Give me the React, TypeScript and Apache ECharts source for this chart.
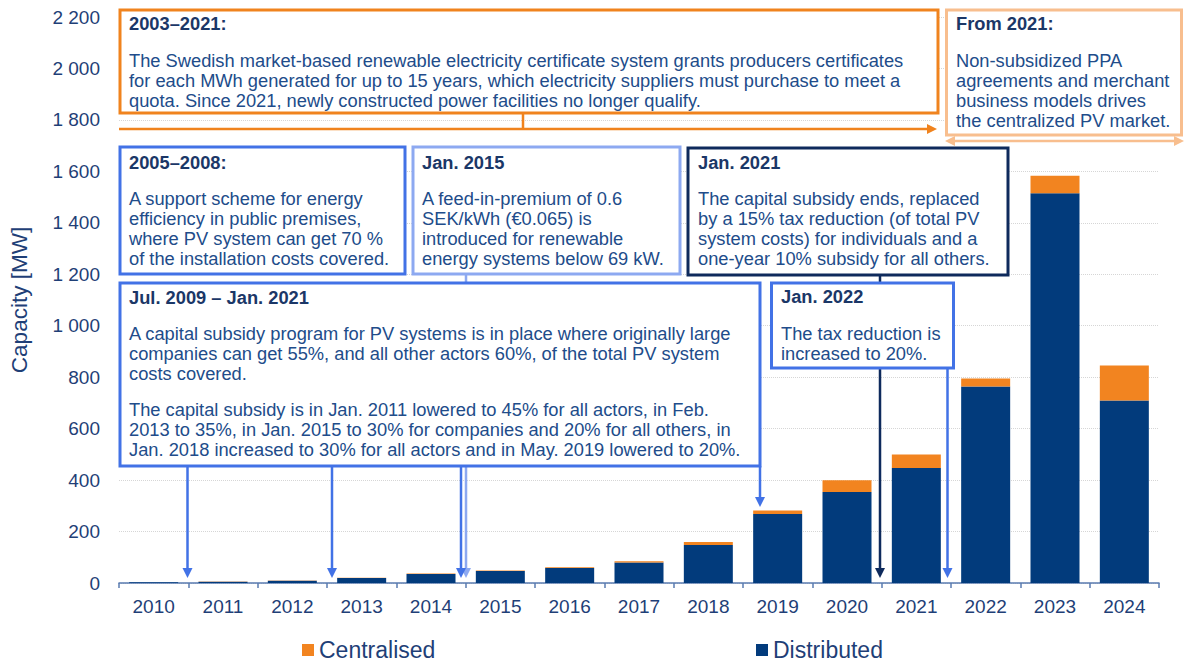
import React, { useEffect, useRef } from 'react';
import * as echarts from 'echarts';

const years = ['2010', '2011', '2012', '2013', '2014', '2015', '2016', '2017', '2018', '2019', '2020', '2021', '2022', '2023', '2024'];
const distributed = [2.5, 5, 9, 19, 35, 47, 58, 80, 148, 268, 354, 447, 764, 1515, 709];
const centralised = [0.5, 1, 1, 1.5, 2, 1.5, 3, 5, 11, 14, 45, 52, 31, 68, 136];
const yMax = 2200;
const yStep = 200;

const AXIS_TEXT = '#1F3F77';
const TITLE = '#1B3767';
const BODY = '#214C8A';
const ORANGE = '#F0831E';
const PEACH = '#F8BE8E';
const BLUE = '#4272E6';
const LIGHTBLUE = '#8DA9F1';
const NAVY_BOX = '#0E2A5C';
const FONT = 'Liberation Sans, Arial, sans-serif';

function fmt(v: number): string {
  if (v >= 1000) {
    const t = Math.floor(v / 1000);
    const r = v % 1000;
    return t + ' ' + String(r).padStart(3, '0');
  }
  return String(v);
}

function box(x: number, y: number, w: number, h: number, stroke: string) {
  return { type: 'rect', z: 100, shape: { x, y, width: w, height: h }, style: { fill: '#ffffff', stroke, lineWidth: 3 } };
}
function title(x: number, y: number, text: string) {
  return {
    type: 'text', z: 101, x, y,
    style: { text, fill: TITLE, fontSize: 18.3, fontWeight: 'bold', fontFamily: FONT, lineHeight: 20, verticalAlign: 'top', align: 'left' },
  };
}
function body(x: number, y: number, text: string, size = 18.3) {
  return {
    type: 'text', z: 101, x, y,
    style: { text, fill: BODY, fontSize: size, fontFamily: FONT, lineHeight: 20, verticalAlign: 'top', align: 'left' },
  };
}
function line(x1: number, y1: number, x2: number, y2: number, color: string, w = 2.5) {
  return { type: 'line', z: 99, shape: { x1, y1, x2, y2 }, style: { stroke: color, lineWidth: w } };
}
function arrowDown(x: number, tip: number, color: string) {
  return { type: 'polygon', z: 99, shape: { points: [[x - 5, tip - 10], [x + 5, tip - 10], [x, tip]] }, style: { fill: color } };
}
function arrowRight(x: number, y: number, color: string) {
  return { type: 'polygon', z: 99, shape: { points: [[x - 10, y - 5], [x - 10, y + 5], [x, y]] }, style: { fill: color } };
}
function arrowLeft(x: number, y: number, color: string) {
  return { type: 'polygon', z: 99, shape: { points: [[x + 10, y - 5], [x + 10, y + 5], [x, y]] }, style: { fill: color } };
}

export default function App() {
  const ref = useRef<HTMLDivElement>(null);
  useEffect(() => {
    if (!ref.current) return;
    const chart = echarts.init(ref.current, undefined, { renderer: 'svg' });
    const tip = 578;
    const graphic: any[] = [
      // connector lines behind boxes
      line(466, 274, 466, tip - 8, LIGHTBLUE),
      arrowDown(466, tip, LIGHTBLUE),
      line(880, 275, 880, tip - 8, NAVY_BOX),
      arrowDown(880, tip, NAVY_BOX),
      line(187.5, 466, 187.5, tip - 8, BLUE),
      arrowDown(187.5, tip, BLUE),
      line(332, 466, 332, tip - 8, BLUE),
      arrowDown(332, tip, BLUE),
      line(461, 466, 461, tip - 8, BLUE),
      arrowDown(461, tip, BLUE),
      line(760, 466, 760, 498, BLUE),
      arrowDown(760, 507, BLUE),
      line(947.5, 368, 947.5, tip - 8, BLUE),
      arrowDown(947.5, tip, BLUE),
      // orange timeline
      line(523, 113, 523, 129, ORANGE, 2.5),
      line(119, 129, 929, 129, ORANGE, 2.5),
      arrowRight(937, 129, ORANGE),
      // peach double arrow
      line(952, 141, 1176, 141, PEACH, 2.5),
      arrowLeft(945, 141, PEACH),
      arrowRight(1184, 141, PEACH),
      // boxes
      box(120, 10, 818, 103, ORANGE),
      title(129, 13, '2003–2021:'),
      body(129, 50, 'The Swedish market-based renewable electricity certificate system grants producers certificates\nfor each MWh generated for up to 15 years, which electricity suppliers must purchase to meet a\nquota. Since 2021, newly constructed power facilities no longer qualify.'),
      box(946.5, 10, 235, 125, PEACH),
      title(956, 13, 'From 2021:'),
      body(956, 50, 'Non-subsidized PPA\nagreements and merchant\nbusiness models drives\nthe centralized PV market.'),
      box(120, 147, 285, 127, BLUE),
      title(129, 152, '2005–2008:'),
      body(129, 188, 'A support scheme for energy\nefficiency in public premises,\nwhere PV system can get 70 %\nof the installation costs covered.'),
      box(413, 147, 267, 127, LIGHTBLUE),
      title(422, 152, 'Jan. 2015'),
      body(422, 188, 'A feed-in-premium of 0.6\nSEK/kWh (€0.065) is\nintroduced for renewable\nenergy systems below 69 kW.'),
      box(688, 148, 320, 127, NAVY_BOX),
      title(698, 152, 'Jan. 2021'),
      body(698, 188, 'The capital subsidy ends, replaced\nby a 15% tax reduction (of total PV\nsystem costs) for individuals and a\none-year 10% subsidy for all others.'),
      box(120, 283, 640, 183, BLUE),
      title(129, 287, 'Jul. 2009 – Jan. 2021'),
      body(129, 323, 'A capital subsidy program for PV systems is in place where originally large\ncompanies can get 55%, and all other actors 60%, of the total PV system\ncosts covered.'),
      body(129, 399, 'The capital subsidy is in Jan. 2011 lowered to 45% for all actors, in Feb.\n2013 to 35%, in Jan. 2015 to 30% for companies and 20% for all others, in\nJan. 2018 increased to 30% for all actors and in May. 2019 lowered to 20%.'),
      box(771.5, 283, 182, 85, BLUE),
      title(781, 286, 'Jan. 2022'),
      body(781, 323, 'The tax reduction is\nincreased to 20%.'),
    ];

    chart.setOption({
      animation: false,
      backgroundColor: '#ffffff',
      textStyle: { fontFamily: FONT },
      grid: { left: 119, right: 25, top: 17, bottom: 81, containLabel: false },
      legend: [
        {
          data: ['Centralised'], left: 302, top: 638, padding: 0, icon: 'rect', itemWidth: 12, itemHeight: 12, itemGap: 6,
          textStyle: { color: AXIS_TEXT, fontSize: 23, lineHeight: 24 },
        },
        {
          data: ['Distributed'], left: 756, top: 638, padding: 0, icon: 'rect', itemWidth: 12, itemHeight: 12, itemGap: 6,
          textStyle: { color: AXIS_TEXT, fontSize: 23, lineHeight: 24 },
        },
      ],
      xAxis: {
        type: 'category',
        data: years,
        axisLine: { lineStyle: { color: '#5A7BB0', width: 1.5 } },
        axisTick: { show: true, length: 5, lineStyle: { color: '#5A7BB0', width: 1.5 } },
        axisLabel: { color: AXIS_TEXT, fontSize: 19, margin: 14 },
      },
      yAxis: {
        type: 'value',
        min: 0,
        max: yMax,
        interval: yStep,
        name: 'Capacity [MW]',
        nameLocation: 'middle',
        nameRotate: 90,
        nameGap: 88,
        nameTextStyle: { color: AXIS_TEXT, fontSize: 22.5 },
        axisLine: { show: false },
        axisTick: { show: false },
        axisLabel: { color: AXIS_TEXT, fontSize: 19, margin: 19, formatter: (v: number) => fmt(v) },
        splitLine: { lineStyle: { color: '#D6D6D6', type: 'dotted', width: 1 } },
      },
      series: [
        {
          name: 'Distributed', type: 'bar', stack: 'total', data: distributed, barWidth: 49,
          itemStyle: { color: '#023B7C' },
        },
        {
          name: 'Centralised', type: 'bar', stack: 'total', data: centralised, barWidth: 49,
          itemStyle: { color: '#F28420' },
        },
      ],
      graphic,
    });
    return () => chart.dispose();
  }, []);
  return <div ref={ref} style={{ position: 'fixed', left: 0, top: 0, width: 1184, height: 664 }} />;
}
